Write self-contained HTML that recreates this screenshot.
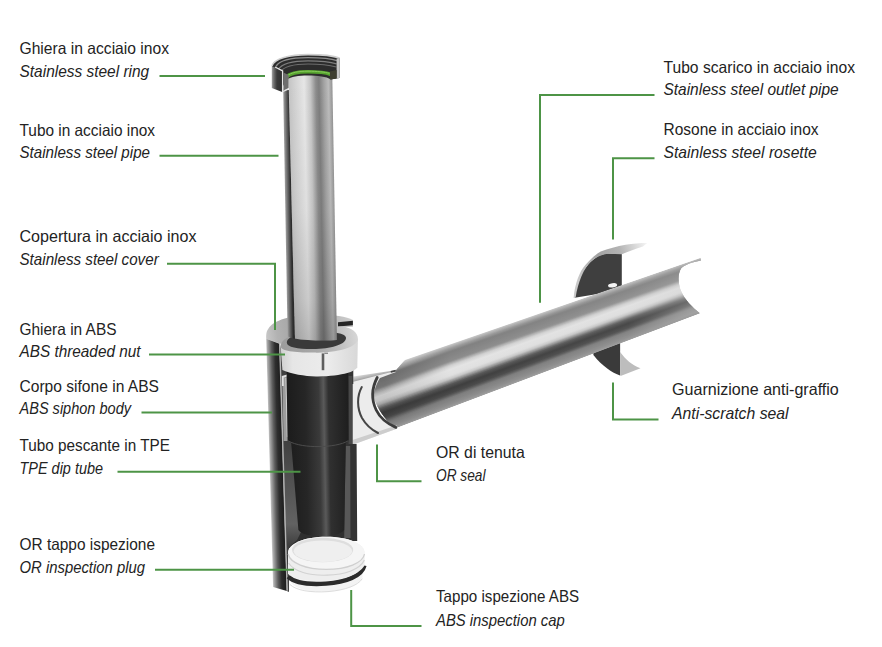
<!DOCTYPE html>
<html lang="it"><head><meta charset="utf-8"><title>Sifone</title>
<style>
html,body{margin:0;padding:0;background:#fff;}
body{width:882px;height:647px;overflow:hidden;}
svg{display:block;}
.lbl text{font-family:"Liberation Sans",sans-serif;font-size:16.5px;fill:#232323;}
.ln path{fill:none;stroke:#4d9446;stroke-width:2;}
</style></head><body>
<svg width="882" height="647" viewBox="0 0 882 647">
<rect width="882" height="647" fill="#fff"/>
<defs>
<linearGradient id="gTube" gradientUnits="userSpaceOnUse" x1="288" y1="92" x2="333" y2="91.1">
<stop offset="0" stop-color="#c2c2c2"/><stop offset="0.12" stop-color="#cfcfcf"/><stop offset="0.36" stop-color="#e6e6e6"/>
<stop offset="0.5" stop-color="#c6c6c6"/><stop offset="0.62" stop-color="#8c8c8c"/><stop offset="0.69" stop-color="#7e7e7e"/><stop offset="0.8" stop-color="#a2a2a2"/>
<stop offset="0.9" stop-color="#bcbcbc"/><stop offset="1" stop-color="#8e8e8e"/>
</linearGradient>
<linearGradient id="gTubeIn" gradientUnits="userSpaceOnUse" x1="283.3" y1="92" x2="289" y2="91.9">
<stop offset="0" stop-color="#a0a0a0"/><stop offset="0.45" stop-color="#6a6a6a"/><stop offset="1" stop-color="#2c2c2c"/>
</linearGradient>
<linearGradient id="gCover" gradientUnits="userSpaceOnUse" x1="267.6" y1="400" x2="281.4" y2="399.6">
<stop offset="0" stop-color="#cccccc"/><stop offset="0.1" stop-color="#a8a8a8"/><stop offset="0.38" stop-color="#5e5e5e"/><stop offset="0.64" stop-color="#2e2e2e"/><stop offset="1" stop-color="#1c1c1c"/>
</linearGradient>
<linearGradient id="gInt" gradientUnits="userSpaceOnUse" x1="290" y1="440" x2="290" y2="545">
<stop offset="0" stop-color="#404040"/><stop offset="0.35" stop-color="#505050"/><stop offset="0.8" stop-color="#626262"/><stop offset="1" stop-color="#404040"/>
</linearGradient>
<linearGradient id="gDip" gradientUnits="userSpaceOnUse" x1="287" y1="400" x2="348" y2="398.8">
<stop offset="0" stop-color="#1c1c1c"/><stop offset="0.3" stop-color="#262626"/><stop offset="0.52" stop-color="#3a3a3a"/>
<stop offset="0.6" stop-color="#5a5a5a"/><stop offset="0.68" stop-color="#303030"/><stop offset="1" stop-color="#1e1e1e"/>
</linearGradient>
<linearGradient id="gNut" gradientUnits="userSpaceOnUse" x1="281" y1="360" x2="358" y2="358.5">
<stop offset="0" stop-color="#d0d0d0"/><stop offset="0.15" stop-color="#e6e6e6"/><stop offset="0.6" stop-color="#ececec"/><stop offset="1" stop-color="#d8d8d8"/>
</linearGradient>
<linearGradient id="gRosRim" gradientUnits="userSpaceOnUse" x1="575" y1="270" x2="646" y2="245">
<stop offset="0" stop-color="#c9c9c9"/><stop offset="0.35" stop-color="#a2a2a2"/><stop offset="0.65" stop-color="#b4b4b4"/><stop offset="1" stop-color="#f2f2f2"/>
</linearGradient>
<linearGradient id="gRim" gradientUnits="userSpaceOnUse" x1="266" y1="330" x2="353" y2="318">
<stop offset="0" stop-color="#c6c6c6"/><stop offset="0.12" stop-color="#b2b2b2"/><stop offset="0.3" stop-color="#a6a6a6"/><stop offset="0.8" stop-color="#bdbdbd"/><stop offset="1" stop-color="#cfcfcf"/>
</linearGradient>
<linearGradient id="gNutTop" gradientUnits="userSpaceOnUse" x1="281" y1="350" x2="358" y2="334">
<stop offset="0" stop-color="#9c9c9c"/><stop offset="0.45" stop-color="#a8a8a8"/><stop offset="0.75" stop-color="#c0c0c0"/><stop offset="1" stop-color="#d8d8d8"/>
</linearGradient>
<linearGradient id="gTubeLen" gradientUnits="userSpaceOnUse" x1="300" y1="78" x2="300" y2="341">
<stop offset="0" stop-color="#000" stop-opacity="0"/><stop offset="0.5" stop-color="#000" stop-opacity="0.03"/><stop offset="0.85" stop-color="#000" stop-opacity="0.12"/><stop offset="1" stop-color="#000" stop-opacity="0.2"/>
</linearGradient>
<clipPath id="pipeClip"><path d="M376.6,378.4 L395.3,371 L405,360 L700.5,257.8 L700.9,260.4 C692,262 684,265 681,268.5 C677.5,274 678,284 681,291 C685,300 692,307 699.8,313.2 L396,428 C384,420 374,404 373,392 C373,386 374.5,381 376.6,378.4 Z"/></clipPath>
<linearGradient id="pb0" gradientUnits="userSpaceOnUse" x1="368" y1="0" x2="704" y2="0"><stop offset="0.051" stop-color="#cecece"/><stop offset="0.244" stop-color="#c9c9c9"/><stop offset="0.774" stop-color="#c2c2c2"/><stop offset="0.964" stop-color="#bbbbbb"/></linearGradient>
<linearGradient id="pb1" gradientUnits="userSpaceOnUse" x1="368" y1="0" x2="704" y2="0"><stop offset="0.051" stop-color="#c3c3c3"/><stop offset="0.244" stop-color="#bbbbbb"/><stop offset="0.774" stop-color="#b7b7b7"/><stop offset="0.964" stop-color="#b2b2b2"/></linearGradient>
<linearGradient id="pb2" gradientUnits="userSpaceOnUse" x1="368" y1="0" x2="704" y2="0"><stop offset="0.051" stop-color="#b7b7b7"/><stop offset="0.244" stop-color="#aeaeae"/><stop offset="0.774" stop-color="#acacac"/><stop offset="0.964" stop-color="#a8a8a8"/></linearGradient>
<linearGradient id="pb3" gradientUnits="userSpaceOnUse" x1="368" y1="0" x2="704" y2="0"><stop offset="0.051" stop-color="#ababab"/><stop offset="0.244" stop-color="#a0a0a0"/><stop offset="0.774" stop-color="#a1a1a1"/><stop offset="0.964" stop-color="#9f9f9f"/></linearGradient>
<linearGradient id="pb4" gradientUnits="userSpaceOnUse" x1="368" y1="0" x2="704" y2="0"><stop offset="0.051" stop-color="#a0a0a0"/><stop offset="0.244" stop-color="#959595"/><stop offset="0.774" stop-color="#979797"/><stop offset="0.964" stop-color="#9a9a9a"/></linearGradient>
<linearGradient id="pb5" gradientUnits="userSpaceOnUse" x1="368" y1="0" x2="704" y2="0"><stop offset="0.051" stop-color="#909090"/><stop offset="0.244" stop-color="#8b8b8b"/><stop offset="0.774" stop-color="#909090"/><stop offset="0.964" stop-color="#959595"/></linearGradient>
<linearGradient id="pb6" gradientUnits="userSpaceOnUse" x1="368" y1="0" x2="704" y2="0"><stop offset="0.051" stop-color="#808080"/><stop offset="0.244" stop-color="#828282"/><stop offset="0.774" stop-color="#888888"/><stop offset="0.964" stop-color="#8f8f8f"/></linearGradient>
<linearGradient id="pb7" gradientUnits="userSpaceOnUse" x1="368" y1="0" x2="704" y2="0"><stop offset="0.051" stop-color="#6f6f6f"/><stop offset="0.244" stop-color="#818181"/><stop offset="0.774" stop-color="#878787"/><stop offset="0.964" stop-color="#8f8f8f"/></linearGradient>
<linearGradient id="pb8" gradientUnits="userSpaceOnUse" x1="368" y1="0" x2="704" y2="0"><stop offset="0.051" stop-color="#6b6b6b"/><stop offset="0.244" stop-color="#838383"/><stop offset="0.774" stop-color="#898989"/><stop offset="0.964" stop-color="#919191"/></linearGradient>
<linearGradient id="pb9" gradientUnits="userSpaceOnUse" x1="368" y1="0" x2="704" y2="0"><stop offset="0.051" stop-color="#6c6c6c"/><stop offset="0.244" stop-color="#848484"/><stop offset="0.774" stop-color="#8a8a8a"/><stop offset="0.964" stop-color="#929292"/></linearGradient>
<linearGradient id="pb10" gradientUnits="userSpaceOnUse" x1="368" y1="0" x2="704" y2="0"><stop offset="0.051" stop-color="#6d6d6d"/><stop offset="0.244" stop-color="#858585"/><stop offset="0.774" stop-color="#8b8b8b"/><stop offset="0.964" stop-color="#939393"/></linearGradient>
<linearGradient id="pb11" gradientUnits="userSpaceOnUse" x1="368" y1="0" x2="704" y2="0"><stop offset="0.051" stop-color="#6e6e6e"/><stop offset="0.244" stop-color="#878787"/><stop offset="0.774" stop-color="#8d8d8d"/><stop offset="0.964" stop-color="#959595"/></linearGradient>
<linearGradient id="pb12" gradientUnits="userSpaceOnUse" x1="368" y1="0" x2="704" y2="0"><stop offset="0.051" stop-color="#707070"/><stop offset="0.244" stop-color="#888888"/><stop offset="0.774" stop-color="#8e8e8e"/><stop offset="0.964" stop-color="#969696"/></linearGradient>
<linearGradient id="pb13" gradientUnits="userSpaceOnUse" x1="368" y1="0" x2="704" y2="0"><stop offset="0.051" stop-color="#717171"/><stop offset="0.244" stop-color="#8a8a8a"/><stop offset="0.774" stop-color="#909090"/><stop offset="0.964" stop-color="#989898"/></linearGradient>
<linearGradient id="pb14" gradientUnits="userSpaceOnUse" x1="368" y1="0" x2="704" y2="0"><stop offset="0.051" stop-color="#727272"/><stop offset="0.244" stop-color="#8b8b8b"/><stop offset="0.774" stop-color="#919191"/><stop offset="0.964" stop-color="#999999"/></linearGradient>
<linearGradient id="pb15" gradientUnits="userSpaceOnUse" x1="368" y1="0" x2="704" y2="0"><stop offset="0.051" stop-color="#737373"/><stop offset="0.244" stop-color="#939393"/><stop offset="0.774" stop-color="#989898"/><stop offset="0.964" stop-color="#9f9f9f"/></linearGradient>
<linearGradient id="pb16" gradientUnits="userSpaceOnUse" x1="368" y1="0" x2="704" y2="0"><stop offset="0.051" stop-color="#787878"/><stop offset="0.244" stop-color="#a5a5a5"/><stop offset="0.774" stop-color="#a8a8a8"/><stop offset="0.964" stop-color="#acacac"/></linearGradient>
<linearGradient id="pb17" gradientUnits="userSpaceOnUse" x1="368" y1="0" x2="704" y2="0"><stop offset="0.051" stop-color="#868686"/><stop offset="0.244" stop-color="#b6b6b6"/><stop offset="0.774" stop-color="#b8b8b8"/><stop offset="0.964" stop-color="#b8b8b8"/></linearGradient>
<linearGradient id="pb18" gradientUnits="userSpaceOnUse" x1="368" y1="0" x2="704" y2="0"><stop offset="0.051" stop-color="#949494"/><stop offset="0.244" stop-color="#c8c8c8"/><stop offset="0.774" stop-color="#c7c7c7"/><stop offset="0.964" stop-color="#c5c5c5"/></linearGradient>
<linearGradient id="pb19" gradientUnits="userSpaceOnUse" x1="368" y1="0" x2="704" y2="0"><stop offset="0.051" stop-color="#a3a3a3"/><stop offset="0.244" stop-color="#d4d4d4"/><stop offset="0.774" stop-color="#d2d2d2"/><stop offset="0.964" stop-color="#cecece"/></linearGradient>
<linearGradient id="pb20" gradientUnits="userSpaceOnUse" x1="368" y1="0" x2="704" y2="0"><stop offset="0.051" stop-color="#afafaf"/><stop offset="0.244" stop-color="#dadada"/><stop offset="0.774" stop-color="#d8d8d8"/><stop offset="0.964" stop-color="#d3d3d3"/></linearGradient>
<linearGradient id="pb21" gradientUnits="userSpaceOnUse" x1="368" y1="0" x2="704" y2="0"><stop offset="0.051" stop-color="#b8b8b8"/><stop offset="0.244" stop-color="#dfdfdf"/><stop offset="0.774" stop-color="#dddddd"/><stop offset="0.964" stop-color="#d8d8d8"/></linearGradient>
<linearGradient id="pb22" gradientUnits="userSpaceOnUse" x1="368" y1="0" x2="704" y2="0"><stop offset="0.051" stop-color="#c1c1c1"/><stop offset="0.244" stop-color="#e4e4e4"/><stop offset="0.774" stop-color="#e2e2e2"/><stop offset="0.964" stop-color="#dcdcdc"/></linearGradient>
<linearGradient id="pb23" gradientUnits="userSpaceOnUse" x1="368" y1="0" x2="704" y2="0"><stop offset="0.051" stop-color="#cacaca"/><stop offset="0.244" stop-color="#e3e3e3"/><stop offset="0.774" stop-color="#e1e1e1"/><stop offset="0.964" stop-color="#dcdcdc"/></linearGradient>
<linearGradient id="pb24" gradientUnits="userSpaceOnUse" x1="368" y1="0" x2="704" y2="0"><stop offset="0.051" stop-color="#c8c8c8"/><stop offset="0.244" stop-color="#e2e2e2"/><stop offset="0.774" stop-color="#e0e0e0"/><stop offset="0.964" stop-color="#dbdbdb"/></linearGradient>
<linearGradient id="pb25" gradientUnits="userSpaceOnUse" x1="368" y1="0" x2="704" y2="0"><stop offset="0.051" stop-color="#c7c7c7"/><stop offset="0.244" stop-color="#e2e2e2"/><stop offset="0.774" stop-color="#e0e0e0"/><stop offset="0.964" stop-color="#dbdbdb"/></linearGradient>
<linearGradient id="pb26" gradientUnits="userSpaceOnUse" x1="368" y1="0" x2="704" y2="0"><stop offset="0.051" stop-color="#c5c5c5"/><stop offset="0.244" stop-color="#e1e1e1"/><stop offset="0.774" stop-color="#dfdfdf"/><stop offset="0.964" stop-color="#dbdbdb"/></linearGradient>
<linearGradient id="pb27" gradientUnits="userSpaceOnUse" x1="368" y1="0" x2="704" y2="0"><stop offset="0.051" stop-color="#c3c3c3"/><stop offset="0.244" stop-color="#e0e0e0"/><stop offset="0.774" stop-color="#dedede"/><stop offset="0.964" stop-color="#dadada"/></linearGradient>
<linearGradient id="pb28" gradientUnits="userSpaceOnUse" x1="368" y1="0" x2="704" y2="0"><stop offset="0.051" stop-color="#b9b9b9"/><stop offset="0.244" stop-color="#dbdbdb"/><stop offset="0.774" stop-color="#d9d9d9"/><stop offset="0.964" stop-color="#d6d6d6"/></linearGradient>
<linearGradient id="pb29" gradientUnits="userSpaceOnUse" x1="368" y1="0" x2="704" y2="0"><stop offset="0.051" stop-color="#afafaf"/><stop offset="0.244" stop-color="#d1d1d1"/><stop offset="0.774" stop-color="#d0d0d0"/><stop offset="0.964" stop-color="#cecece"/></linearGradient>
<linearGradient id="pb30" gradientUnits="userSpaceOnUse" x1="368" y1="0" x2="704" y2="0"><stop offset="0.051" stop-color="#a3a3a3"/><stop offset="0.244" stop-color="#c7c7c7"/><stop offset="0.774" stop-color="#c7c7c7"/><stop offset="0.964" stop-color="#c6c6c6"/></linearGradient>
<linearGradient id="pb31" gradientUnits="userSpaceOnUse" x1="368" y1="0" x2="704" y2="0"><stop offset="0.051" stop-color="#909090"/><stop offset="0.244" stop-color="#b3b3b3"/><stop offset="0.774" stop-color="#b5b5b5"/><stop offset="0.964" stop-color="#bbbbbb"/></linearGradient>
<linearGradient id="pb32" gradientUnits="userSpaceOnUse" x1="368" y1="0" x2="704" y2="0"><stop offset="0.051" stop-color="#7e7e7e"/><stop offset="0.244" stop-color="#9c9c9c"/><stop offset="0.774" stop-color="#9f9f9f"/><stop offset="0.964" stop-color="#aeaeae"/></linearGradient>
<linearGradient id="pb33" gradientUnits="userSpaceOnUse" x1="368" y1="0" x2="704" y2="0"><stop offset="0.051" stop-color="#6b6b6b"/><stop offset="0.244" stop-color="#848484"/><stop offset="0.774" stop-color="#898989"/><stop offset="0.964" stop-color="#a1a1a1"/></linearGradient>
<linearGradient id="pb34" gradientUnits="userSpaceOnUse" x1="368" y1="0" x2="704" y2="0"><stop offset="0.051" stop-color="#585858"/><stop offset="0.244" stop-color="#6c6c6c"/><stop offset="0.774" stop-color="#737373"/><stop offset="0.964" stop-color="#949494"/></linearGradient>
<linearGradient id="pb35" gradientUnits="userSpaceOnUse" x1="368" y1="0" x2="704" y2="0"><stop offset="0.051" stop-color="#4e4e4e"/><stop offset="0.244" stop-color="#585858"/><stop offset="0.774" stop-color="#616161"/><stop offset="0.964" stop-color="#888888"/></linearGradient>
<linearGradient id="pb36" gradientUnits="userSpaceOnUse" x1="368" y1="0" x2="704" y2="0"><stop offset="0.051" stop-color="#474747"/><stop offset="0.244" stop-color="#515151"/><stop offset="0.774" stop-color="#5a5a5a"/><stop offset="0.964" stop-color="#818181"/></linearGradient>
<linearGradient id="pb37" gradientUnits="userSpaceOnUse" x1="368" y1="0" x2="704" y2="0"><stop offset="0.051" stop-color="#404040"/><stop offset="0.244" stop-color="#4a4a4a"/><stop offset="0.774" stop-color="#535353"/><stop offset="0.964" stop-color="#7a7a7a"/></linearGradient>
<linearGradient id="pb38" gradientUnits="userSpaceOnUse" x1="368" y1="0" x2="704" y2="0"><stop offset="0.051" stop-color="#393939"/><stop offset="0.244" stop-color="#434343"/><stop offset="0.774" stop-color="#4d4d4d"/><stop offset="0.964" stop-color="#737373"/></linearGradient>
<linearGradient id="pb39" gradientUnits="userSpaceOnUse" x1="368" y1="0" x2="704" y2="0"><stop offset="0.051" stop-color="#3a3a3a"/><stop offset="0.244" stop-color="#3f3f3f"/><stop offset="0.774" stop-color="#494949"/><stop offset="0.964" stop-color="#6f6f6f"/></linearGradient>
<linearGradient id="pb40" gradientUnits="userSpaceOnUse" x1="368" y1="0" x2="704" y2="0"><stop offset="0.051" stop-color="#3c3c3c"/><stop offset="0.244" stop-color="#414141"/><stop offset="0.774" stop-color="#4b4b4b"/><stop offset="0.964" stop-color="#727272"/></linearGradient>
<linearGradient id="pb41" gradientUnits="userSpaceOnUse" x1="368" y1="0" x2="704" y2="0"><stop offset="0.051" stop-color="#3f3f3f"/><stop offset="0.244" stop-color="#444444"/><stop offset="0.774" stop-color="#4e4e4e"/><stop offset="0.964" stop-color="#757575"/></linearGradient>
<linearGradient id="pb42" gradientUnits="userSpaceOnUse" x1="368" y1="0" x2="704" y2="0"><stop offset="0.051" stop-color="#414141"/><stop offset="0.244" stop-color="#474747"/><stop offset="0.774" stop-color="#515151"/><stop offset="0.964" stop-color="#787878"/></linearGradient>
<linearGradient id="pb43" gradientUnits="userSpaceOnUse" x1="368" y1="0" x2="704" y2="0"><stop offset="0.051" stop-color="#444444"/><stop offset="0.244" stop-color="#4a4a4a"/><stop offset="0.774" stop-color="#545454"/><stop offset="0.964" stop-color="#7b7b7b"/></linearGradient>
<linearGradient id="pb44" gradientUnits="userSpaceOnUse" x1="368" y1="0" x2="704" y2="0"><stop offset="0.051" stop-color="#4d4d4d"/><stop offset="0.244" stop-color="#555555"/><stop offset="0.774" stop-color="#5e5e5e"/><stop offset="0.964" stop-color="#818181"/></linearGradient>
<linearGradient id="pb45" gradientUnits="userSpaceOnUse" x1="368" y1="0" x2="704" y2="0"><stop offset="0.051" stop-color="#595959"/><stop offset="0.244" stop-color="#626262"/><stop offset="0.774" stop-color="#6a6a6a"/><stop offset="0.964" stop-color="#888888"/></linearGradient>
<linearGradient id="pb46" gradientUnits="userSpaceOnUse" x1="368" y1="0" x2="704" y2="0"><stop offset="0.051" stop-color="#646464"/><stop offset="0.244" stop-color="#6f6f6f"/><stop offset="0.774" stop-color="#777777"/><stop offset="0.964" stop-color="#8f8f8f"/></linearGradient>
<linearGradient id="pb47" gradientUnits="userSpaceOnUse" x1="368" y1="0" x2="704" y2="0"><stop offset="0.051" stop-color="#6f6f6f"/><stop offset="0.244" stop-color="#7d7d7d"/><stop offset="0.774" stop-color="#838383"/><stop offset="0.964" stop-color="#969696"/></linearGradient>
<linearGradient id="pb48" gradientUnits="userSpaceOnUse" x1="368" y1="0" x2="704" y2="0"><stop offset="0.051" stop-color="#787878"/><stop offset="0.244" stop-color="#818181"/><stop offset="0.774" stop-color="#868686"/><stop offset="0.964" stop-color="#9b9b9b"/></linearGradient>
<linearGradient id="pb49" gradientUnits="userSpaceOnUse" x1="368" y1="0" x2="704" y2="0"><stop offset="0.051" stop-color="#7c7c7c"/><stop offset="0.244" stop-color="#838383"/><stop offset="0.774" stop-color="#898989"/><stop offset="0.964" stop-color="#9c9c9c"/></linearGradient>
<linearGradient id="pb50" gradientUnits="userSpaceOnUse" x1="368" y1="0" x2="704" y2="0"><stop offset="0.051" stop-color="#808080"/><stop offset="0.244" stop-color="#868686"/><stop offset="0.774" stop-color="#8b8b8b"/><stop offset="0.964" stop-color="#9e9e9e"/></linearGradient>
<linearGradient id="pb51" gradientUnits="userSpaceOnUse" x1="368" y1="0" x2="704" y2="0"><stop offset="0.051" stop-color="#848484"/><stop offset="0.244" stop-color="#898989"/><stop offset="0.774" stop-color="#8e8e8e"/><stop offset="0.964" stop-color="#9f9f9f"/></linearGradient>
<linearGradient id="pb52" gradientUnits="userSpaceOnUse" x1="368" y1="0" x2="704" y2="0"><stop offset="0.051" stop-color="#878787"/><stop offset="0.244" stop-color="#8c8c8c"/><stop offset="0.774" stop-color="#909090"/><stop offset="0.964" stop-color="#a1a1a1"/></linearGradient>
<linearGradient id="pb53" gradientUnits="userSpaceOnUse" x1="368" y1="0" x2="704" y2="0"><stop offset="0.051" stop-color="#8c8c8c"/><stop offset="0.244" stop-color="#909090"/><stop offset="0.774" stop-color="#949494"/><stop offset="0.964" stop-color="#a1a1a1"/></linearGradient>
<linearGradient id="pb54" gradientUnits="userSpaceOnUse" x1="368" y1="0" x2="704" y2="0"><stop offset="0.051" stop-color="#919191"/><stop offset="0.244" stop-color="#969696"/><stop offset="0.774" stop-color="#989898"/><stop offset="0.964" stop-color="#9e9e9e"/></linearGradient>
<linearGradient id="pb55" gradientUnits="userSpaceOnUse" x1="368" y1="0" x2="704" y2="0"><stop offset="0.051" stop-color="#979797"/><stop offset="0.244" stop-color="#9d9d9d"/><stop offset="0.774" stop-color="#9e9e9e"/><stop offset="0.964" stop-color="#9b9b9b"/></linearGradient>
<linearGradient id="gChunk" gradientUnits="userSpaceOnUse" x1="271.8" y1="80" x2="282.2" y2="80">
<stop offset="0" stop-color="#a4a4a4"/><stop offset="0.2" stop-color="#6e6e6e"/><stop offset="0.5" stop-color="#3a3a3a"/><stop offset="1" stop-color="#303030"/>
</linearGradient>
<linearGradient id="gStrip" gradientUnits="userSpaceOnUse" x1="370" y1="373" x2="371.3" y2="378.4">
<stop offset="0" stop-color="#d6d6d6"/><stop offset="0.6" stop-color="#b0b0b0"/><stop offset="1" stop-color="#8e8e8e"/>
</linearGradient>
</defs>

<!-- rosette (behind pipe) -->
<g id="rosette">
<path d="M574.7,297.7 C576.5,285 580,274 586.6,266.4 C591,261 596,257 600.7,255 C603,254 606,253.4 608.3,253.4 L621.8,253.9 L621.8,290 Z" fill="#3f3f3f"/>
<path d="M573.6,298 C575,284 579,272 585.8,264.6 C590,259.5 595,255 600.7,251.6 C608,248.5 617,246.3 625.6,244.7 C633,243.6 640,243 647.2,243 L642.9,246.4 C636,248.5 628,251.5 621.8,254.2 L608.3,253.8 C603,254 596,257 591,261.6 C584,268 578,282 575.6,297.6 Z" fill="url(#gRosRim)"/>
<path d="M593.4,351 L620.1,341 L620.1,375.6 C612,373 602,366 593.4,355.1 Z" fill="#3a3a3a"/>
<path d="M620.1,352 C626,360 632,365 640.5,368.2 L621.2,375.8 L620.1,375.6 Z" fill="#bdbdbd"/>
</g>

<!-- outlet pipe -->
<g id="pipe">
<g clip-path="url(#pipeClip)">
<path d="M368.0,372.29 L704.0,256.60 L704.0,258.89 L368.0,374.77 Z" fill="url(#pb0)"/>
<path d="M368.0,373.47 L704.0,257.59 L704.0,259.88 L368.0,375.96 Z" fill="url(#pb1)"/>
<path d="M368.0,374.66 L704.0,258.58 L704.0,260.87 L368.0,377.14 Z" fill="url(#pb2)"/>
<path d="M368.0,375.84 L704.0,259.57 L704.0,261.85 L368.0,378.32 Z" fill="url(#pb3)"/>
<path d="M368.0,377.02 L704.0,260.55 L704.0,262.84 L368.0,379.51 Z" fill="url(#pb4)"/>
<path d="M368.0,378.21 L704.0,261.54 L704.0,263.83 L368.0,380.69 Z" fill="url(#pb5)"/>
<path d="M368.0,379.39 L704.0,262.53 L704.0,264.81 L368.0,381.87 Z" fill="url(#pb6)"/>
<path d="M368.0,380.57 L704.0,263.51 L704.0,265.80 L368.0,383.06 Z" fill="url(#pb7)"/>
<path d="M368.0,381.76 L704.0,264.50 L704.0,266.79 L368.0,384.24 Z" fill="url(#pb8)"/>
<path d="M368.0,382.94 L704.0,265.49 L704.0,267.78 L368.0,385.42 Z" fill="url(#pb9)"/>
<path d="M368.0,384.12 L704.0,266.48 L704.0,268.76 L368.0,386.61 Z" fill="url(#pb10)"/>
<path d="M368.0,385.31 L704.0,267.46 L704.0,269.75 L368.0,387.79 Z" fill="url(#pb11)"/>
<path d="M368.0,386.49 L704.0,268.45 L704.0,270.74 L368.0,388.97 Z" fill="url(#pb12)"/>
<path d="M368.0,387.67 L704.0,269.44 L704.0,271.72 L368.0,390.16 Z" fill="url(#pb13)"/>
<path d="M368.0,388.86 L704.0,270.42 L704.0,272.71 L368.0,391.34 Z" fill="url(#pb14)"/>
<path d="M368.0,390.04 L704.0,271.41 L704.0,273.70 L368.0,392.52 Z" fill="url(#pb15)"/>
<path d="M368.0,391.22 L704.0,272.40 L704.0,274.69 L368.0,393.71 Z" fill="url(#pb16)"/>
<path d="M368.0,392.41 L704.0,273.39 L704.0,275.67 L368.0,394.89 Z" fill="url(#pb17)"/>
<path d="M368.0,393.59 L704.0,274.37 L704.0,276.66 L368.0,396.07 Z" fill="url(#pb18)"/>
<path d="M368.0,394.77 L704.0,275.36 L704.0,277.65 L368.0,397.26 Z" fill="url(#pb19)"/>
<path d="M368.0,395.96 L704.0,276.35 L704.0,278.63 L368.0,398.44 Z" fill="url(#pb20)"/>
<path d="M368.0,397.14 L704.0,277.33 L704.0,279.62 L368.0,399.62 Z" fill="url(#pb21)"/>
<path d="M368.0,398.32 L704.0,278.32 L704.0,280.61 L368.0,400.81 Z" fill="url(#pb22)"/>
<path d="M368.0,399.51 L704.0,279.31 L704.0,281.60 L368.0,401.99 Z" fill="url(#pb23)"/>
<path d="M368.0,400.69 L704.0,280.30 L704.0,282.58 L368.0,403.17 Z" fill="url(#pb24)"/>
<path d="M368.0,401.87 L704.0,281.28 L704.0,283.57 L368.0,404.36 Z" fill="url(#pb25)"/>
<path d="M368.0,403.06 L704.0,282.27 L704.0,284.56 L368.0,405.54 Z" fill="url(#pb26)"/>
<path d="M368.0,404.24 L704.0,283.26 L704.0,285.54 L368.0,406.72 Z" fill="url(#pb27)"/>
<path d="M368.0,405.42 L704.0,284.24 L704.0,286.53 L368.0,407.91 Z" fill="url(#pb28)"/>
<path d="M368.0,406.61 L704.0,285.23 L704.0,287.52 L368.0,409.09 Z" fill="url(#pb29)"/>
<path d="M368.0,407.79 L704.0,286.22 L704.0,288.51 L368.0,410.27 Z" fill="url(#pb30)"/>
<path d="M368.0,408.97 L704.0,287.21 L704.0,289.49 L368.0,411.46 Z" fill="url(#pb31)"/>
<path d="M368.0,410.16 L704.0,288.19 L704.0,290.48 L368.0,412.64 Z" fill="url(#pb32)"/>
<path d="M368.0,411.34 L704.0,289.18 L704.0,291.47 L368.0,413.82 Z" fill="url(#pb33)"/>
<path d="M368.0,412.52 L704.0,290.17 L704.0,292.45 L368.0,415.01 Z" fill="url(#pb34)"/>
<path d="M368.0,413.71 L704.0,291.15 L704.0,293.44 L368.0,416.19 Z" fill="url(#pb35)"/>
<path d="M368.0,414.89 L704.0,292.14 L704.0,294.43 L368.0,417.37 Z" fill="url(#pb36)"/>
<path d="M368.0,416.07 L704.0,293.13 L704.0,295.42 L368.0,418.56 Z" fill="url(#pb37)"/>
<path d="M368.0,417.26 L704.0,294.12 L704.0,296.40 L368.0,419.74 Z" fill="url(#pb38)"/>
<path d="M368.0,418.44 L704.0,295.10 L704.0,297.39 L368.0,420.92 Z" fill="url(#pb39)"/>
<path d="M368.0,419.62 L704.0,296.09 L704.0,298.38 L368.0,422.11 Z" fill="url(#pb40)"/>
<path d="M368.0,420.81 L704.0,297.08 L704.0,299.36 L368.0,423.29 Z" fill="url(#pb41)"/>
<path d="M368.0,421.99 L704.0,298.06 L704.0,300.35 L368.0,424.47 Z" fill="url(#pb42)"/>
<path d="M368.0,423.17 L704.0,299.05 L704.0,301.34 L368.0,425.66 Z" fill="url(#pb43)"/>
<path d="M368.0,424.36 L704.0,300.04 L704.0,302.33 L368.0,426.84 Z" fill="url(#pb44)"/>
<path d="M368.0,425.54 L704.0,301.03 L704.0,303.31 L368.0,428.02 Z" fill="url(#pb45)"/>
<path d="M368.0,426.72 L704.0,302.01 L704.0,304.30 L368.0,429.21 Z" fill="url(#pb46)"/>
<path d="M368.0,427.91 L704.0,303.00 L704.0,305.29 L368.0,430.39 Z" fill="url(#pb47)"/>
<path d="M368.0,429.09 L704.0,303.99 L704.0,306.27 L368.0,431.57 Z" fill="url(#pb48)"/>
<path d="M368.0,430.27 L704.0,304.97 L704.0,307.26 L368.0,432.76 Z" fill="url(#pb49)"/>
<path d="M368.0,431.46 L704.0,305.96 L704.0,308.25 L368.0,433.94 Z" fill="url(#pb50)"/>
<path d="M368.0,432.64 L704.0,306.95 L704.0,309.24 L368.0,435.12 Z" fill="url(#pb51)"/>
<path d="M368.0,433.82 L704.0,307.94 L704.0,310.22 L368.0,436.31 Z" fill="url(#pb52)"/>
<path d="M368.0,435.01 L704.0,308.92 L704.0,311.21 L368.0,437.49 Z" fill="url(#pb53)"/>
<path d="M368.0,436.19 L704.0,309.91 L704.0,312.20 L368.0,438.67 Z" fill="url(#pb54)"/>
<path d="M368.0,437.37 L704.0,310.90 L704.0,311.88 L368.0,438.56 Z" fill="url(#pb55)"/>
</g>
<ellipse cx="612.6" cy="285.3" rx="4.6" ry="2.1" fill="#f4f4f4" transform="rotate(-8 612.6 285.3)"/>
</g>

<!-- socket (white ABS outlet) -->
<g id="socket">
<path d="M348,385 L353.2,380 L395.3,370.4 L396,372 L380,378 C375,386 372,396 374,406 C376,416 386,424 396,428 L397.4,428.4 L348,446.4 Z" fill="#ececec"/>
<path d="M353.2,376.4 L395.3,370.2 L395.5,371.6 L388.5,372.8 L353.2,381.8 Z" fill="url(#gStrip)"/>
<path d="M390.6,371 L395.6,369.8 L396,371.6 L391,372.8 Z" fill="#474747"/>
<path d="M348,441.5 L397,425.2 L397.4,428.6 L348,446.6 Z" fill="#cdcdcd"/>
<path d="M348,385 L352.6,383 L352.6,444 L348,445.6 Z" fill="#d6d6d6"/>
<path d="M377.2,377.5 C371.8,388 371.4,400 376.2,410 C380,418 388,424 395.8,427.4" fill="none" stroke="#3c3c3c" stroke-width="2.8" stroke-linecap="round"/>
<path d="M361.8,387 C356.8,396 356.8,408 362,418 C366,425 372,430 378,433" fill="none" stroke="#464646" stroke-width="2" stroke-linecap="round"/>
</g>

<!-- cover top rim (back) -->
<g id="coverrim">
<path d="M266.2,338.7 C266,334 266.5,332 267.5,330 C270,325.5 273,323 277.5,321.2 C282,319 290,316.5 300,315.4 C322,313 345,315.5 352.9,320 L352.9,327 L338,327 L338,345 L280,343.7 Z" fill="url(#gRim)"/>
<path d="M338,322.3 L352.9,320.8 L352.9,325.2 L338,326.4 Z" fill="#262626"/>
</g>

<!-- cover left band + body interior -->
<g id="body">
<path d="M266.2,338.7 L279.4,343.7 L286.8,591 L273.1,587 Z" fill="url(#gCover)"/>
<!-- interior back -->
<path d="M287,370 L348,370 L346,541 L330,546 L300,548 L289,548 Z" fill="#2f2f2f"/>
<!-- interior left -->
<path d="M279.4,343.7 L290,372 L293,441 L297,455 L302,530 L297,540 L289,547 L289,592 L286.8,591 Z" fill="url(#gInt)"/>
<path d="M279,344 L280.4,344 L287.9,590.8 L286.5,590.4 Z" fill="#b4b4b4"/>
<path d="M282.2,376 L287.2,376 L288.8,441 L283.6,441 Z" fill="#9c9c9c"/>
<path d="M281.8,376 L287,374.5 L287,376.6 L283.6,377.4 L283.8,386 L282,386 Z" fill="#e0e0e0"/>
<path d="M285.4,378 L286.4,378 L287.8,437 L286.8,437 Z" fill="#d0d0d0"/>
<!-- right walls -->
<path d="M346,366 L353.3,366 L353.3,384 L352.5,384 L352.5,444 L356.6,444 L357.2,541 L343.5,541 Z" fill="#333"/>
<path d="M345.6,446 L350.2,446 L350.5,538 L344.2,538 Z" fill="#585858"/>
<path d="M348.4,376 L352.4,376 L352.4,444 L348.6,444 Z" fill="#484848"/>
<!-- dip tube -->
<path d="M286.5,368 L348.3,368 L348.6,440.7 L345.8,443 L344.2,530 C338,538.5 304,538.5 298.4,530 L291.2,443 L287.6,440.7 Z" fill="url(#gDip)"/>
<path d="M287.8,440.7 C296,445.4 308,446.6 318,446.6 C330,446.6 342,444.6 348.4,440.7" fill="none" stroke="#4c4c4c" stroke-width="1"/>
</g>

<!-- nut (white ABS) -->
<g id="nut">
<!-- side -->
<path d="M280.6,346.2 L282.4,369.9 C292,374 304,376 316,376.4 C328,376.6 340,375 347.3,373 C352,371.5 356,369.5 357.3,367.4 L357.9,338.7 Z" fill="url(#gNut)"/>
<!-- top face -->
<path d="M280.6,346.2 C280.6,340 290,334.5 304,331.5 C316,328.6 330,326.2 342,326.6 C352,327.4 357.9,333 357.9,338.7 C357.9,343 352,347.5 341,350 C331,352.2 322,352.8 314,352.6 C300,352.4 281,352 280.6,346.2 Z" fill="url(#gNutTop)"/>
<!-- hole -->
<path d="M286.8,342.4 C286.8,337 298,333 314,332 C328,331.2 346,332.5 346,338 C346,343.6 334,348.4 316,349 C300,349.4 286.8,347.6 286.8,342.4 Z" fill="#3a3a3a"/>
<path d="M321.7,353.4 L324.3,353.4 L324.3,370.2 L321.7,370.2 Z" fill="#5e5e5e"/>
<path d="M324.3,352.6 L328,352.6 L328,354 L324.3,354 Z" fill="#8a8a8a"/>
</g>
<!-- vertical tube -->
<g id="vtube">
<path d="M288.6,78 C296,75.2 304,74.4 310,74.4 C320,74.4 328,75.6 332.3,77 L336.9,340 C325,341.2 305,340.4 294.8,338.4 Z" fill="url(#gTube)"/>
<path d="M288.6,78 C296,75.2 304,74.4 310,74.4 C320,74.4 328,75.6 332.3,77 L336.9,340 C325,341.2 305,340.4 294.8,338.4 Z" fill="url(#gTubeLen)"/>
<path d="M283.2,90 L288.8,90 L294.9,339 L287.6,336.4 Z" fill="url(#gTubeIn)"/>
</g>

<!-- top ring -->
<g id="ring">
<path d="M272,66 C274,58.5 290,54.6 308,54.6 C322,54.6 334,56 339.5,58 L339.5,78 L331,79.6 C326,76.6 318,75.6 308,75.6 C298,75.6 291,76.8 287,79.6 L283,86 L272,72 Z" fill="#2c2c2c"/>
<path d="M276,66.5 C279,60.5 292,57.6 308,57.6 C321,57.6 332,58.8 337,60.6" fill="none" stroke="#8d8d8d" stroke-width="1.4"/>
<path d="M278,69.5 C282,63.5 294,60.8 308,60.8 C321,60.8 331,62 336.6,63.8" fill="none" stroke="#7d7d7d" stroke-width="1.3"/>
<path d="M280,72 C284,66.5 295,64 308,64 C320,64 330,65.2 336.4,67" fill="none" stroke="#6d6d6d" stroke-width="1.2"/>
<path d="M272,66 C274,58.5 290,54.6 308,54.6 C322,54.6 334,56 339.5,58" fill="none" stroke="#cfcfcf" stroke-width="1.6"/>
<path d="M336.6,58.5 L339.5,58 L339.5,78 L336.6,78.6 Z" fill="#c6c6c6"/>
<!-- green o-ring -->
<path d="M286.2,77.2 C290,73.2 298,71.8 308,71.8 C318,71.8 326,72.6 330.5,74.2" fill="none" stroke="#57a52f" stroke-width="3.6"/>
<path d="M287,76 C291,72.6 298,71.2 308,71.2 C317,71.2 325,72 329.5,73.4" fill="none" stroke="#86c85a" stroke-width="1"/>
<path d="M330,71.5 L336.6,70 L336.6,78.6 L330,79.4 Z" fill="#3e3e30"/>
<!-- left chunk -->
<path d="M271.8,66 L282.2,71 L282.2,92 L271.8,88 Z" fill="url(#gChunk)"/>
<path d="M275,67 L282.6,71 L282.6,91.6 L288.8,88.8" fill="none" stroke="#e6e6e6" stroke-width="1.3"/>
<path d="M283.4,72.5 L288.6,75 L288.6,88 L283.4,90.6 Z" fill="#6e6e6e"/>
</g>
<!-- inspection cap -->
<g id="cap">
<!-- bottom flange -->
<path d="M289.5,580 C293,589 310,592.6 328,591.4 C346,590 359,585 362.5,577 L362.5,570 L289,574 Z" fill="#f3f3f3"/>
<path d="M290,584.5 C296,590.5 311,592.8 328,591.6 C345,590.2 358,585.6 362.3,578.6" fill="none" stroke="#dcdcdc" stroke-width="1"/>
<!-- o-ring -->
<path d="M288.2,576.6 C294,582.4 308,584.8 326,583.6 C346,582.2 362,576 364.4,565.5" fill="none" stroke="#2b2b2b" stroke-width="4.4"/>
<!-- cap body -->
<path d="M288,553 C288,543.5 305,536.8 326.3,536.8 C347.5,536.8 364.6,543.5 364.6,553 L364.6,565 C360,574 345,579.6 326,580.6 C308,581.4 294,579 288,574 Z" fill="#eeeeee"/>
<path d="M288.6,563 C294,571.5 309,575.8 327,575.2 C345,574.6 360,569.5 364.4,560" fill="none" stroke="#d2d2d2" stroke-width="1.2"/>
<path d="M288,553 C288,543.5 305,536.8 326.3,536.8 C347.5,536.8 364.6,543.5 364.6,553 C364.6,562.4 347.5,569.6 326.3,569.6 C305,569.6 288,562.4 288,553 Z" fill="#f5f5f5"/>
<path d="M288.2,554 C290,563 306,569.4 326.3,569.4 C347,569.4 363,563 364.5,554" fill="none" stroke="#cfcfcf" stroke-width="1.3"/>
<ellipse cx="322.6" cy="550" rx="30.6" ry="12.2" fill="#dedede"/>
<ellipse cx="322.9" cy="551.2" rx="29.2" ry="10.8" fill="#efefef"/>
</g>

<g class="ln">
<path d="M159.5,76 H265"/>
<path d="M159.5,155.7 H278.5"/>
<path d="M167,263.7 H275 V330"/>
<path d="M149,354.5 H285"/>
<path d="M141.5,412.5 H272"/>
<path d="M117.5,471.7 H300.5"/>
<path d="M155,569.7 H294"/>
<path d="M654.5,95 H540 V302.8"/>
<path d="M654.5,158.3 H613 V239.6"/>
<path d="M613,382.4 V419.5 H658.5"/>
<path d="M377,444.4 V481.2 H421.5"/>
<path d="M351.2,590 V626.1 H421.5"/>
</g>
<g class="lbl">
<text x="19.5" y="54" textLength="149.5" lengthAdjust="spacingAndGlyphs">Ghiera in acciaio inox</text>
<text x="19.5" y="77" textLength="129.7" lengthAdjust="spacingAndGlyphs" font-style="italic">Stainless steel ring</text>
<text x="19.5" y="135.5" textLength="135.5" lengthAdjust="spacingAndGlyphs">Tubo in acciaio inox</text>
<text x="19.5" y="158" textLength="130.5" lengthAdjust="spacingAndGlyphs" font-style="italic">Stainless steel pipe</text>
<text x="19.5" y="242" textLength="177" lengthAdjust="spacingAndGlyphs">Copertura in acciaio inox</text>
<text x="19.5" y="264.5" textLength="139.2" lengthAdjust="spacingAndGlyphs" font-style="italic">Stainless steel cover</text>
<text x="19.5" y="334.5" textLength="97" lengthAdjust="spacingAndGlyphs">Ghiera in ABS</text>
<text x="19.5" y="356.5" textLength="121" lengthAdjust="spacingAndGlyphs" font-style="italic">ABS threaded nut</text>
<text x="19.5" y="391.5" textLength="139.5" lengthAdjust="spacingAndGlyphs">Corpo sifone in ABS</text>
<text x="19.5" y="414" textLength="111.5" lengthAdjust="spacingAndGlyphs" font-style="italic">ABS siphon body</text>
<text x="19.5" y="451" textLength="150.5" lengthAdjust="spacingAndGlyphs">Tubo pescante in TPE</text>
<text x="19.5" y="474" textLength="83.5" lengthAdjust="spacingAndGlyphs" font-style="italic">TPE dip tube</text>
<text x="19.5" y="550" textLength="135.5" lengthAdjust="spacingAndGlyphs">OR tappo ispezione</text>
<text x="19.5" y="572.5" textLength="125.5" lengthAdjust="spacingAndGlyphs" font-style="italic">OR inspection plug</text>
<text x="663.5" y="72.6" textLength="191.5" lengthAdjust="spacingAndGlyphs">Tubo scarico in acciaio inox</text>
<text x="663.5" y="94.5" textLength="175.2" lengthAdjust="spacingAndGlyphs" font-style="italic">Stainless steel outlet pipe</text>
<text x="663.5" y="135.2" textLength="155" lengthAdjust="spacingAndGlyphs">Rosone in acciaio inox</text>
<text x="663.5" y="157.6" textLength="153.3" lengthAdjust="spacingAndGlyphs" font-style="italic">Stainless steel rosette</text>
<text x="672" y="395.2" textLength="166.8" lengthAdjust="spacingAndGlyphs">Guarnizione anti-graffio</text>
<text x="672" y="418.5" textLength="116.6" lengthAdjust="spacingAndGlyphs" font-style="italic">Anti-scratch seal</text>
<text x="436" y="457.5" textLength="88.8" lengthAdjust="spacingAndGlyphs">OR di tenuta</text>
<text x="436" y="480.5" textLength="49.5" lengthAdjust="spacingAndGlyphs" font-style="italic">OR seal</text>
<text x="436" y="602.2" textLength="143.1" lengthAdjust="spacingAndGlyphs">Tappo ispezione ABS</text>
<text x="436" y="625.5" textLength="128.7" lengthAdjust="spacingAndGlyphs" font-style="italic">ABS inspection cap</text>
</g>
</svg>
</body></html>
